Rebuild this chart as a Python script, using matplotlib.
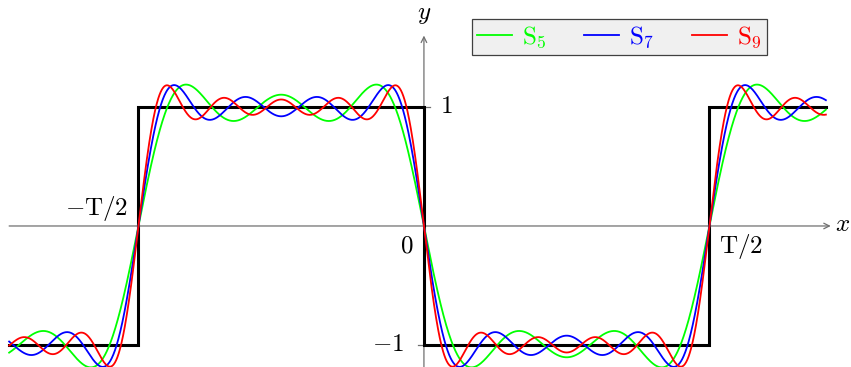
import numpy as np
import matplotlib.pyplot as plt

plt.rcParams['mathtext.fontset'] = 'cm'
plt.rcParams['font.family'] = 'serif'
plt.rcParams['font.serif'] = ['DejaVu Serif']

# half period T/2 = 1 in data units
x_min, x_max = -1.453, 1.408

# square wave: breakpoints and level on each piece
edges = [x_min, -1.0, 0.0, 1.0, x_max]
levels = [-1, 1, -1, 1]

# odd harmonics kept in each partial sum
orders = {'S_5': [1, 3, 5], 'S_7': [1, 3, 5, 7], 'S_9': [1, 3, 5, 7, 9]}
colors = {'S_5': '#00ff00', 'S_7': '#0000ff', 'S_9': '#ff0000'}
amp = 4 / np.pi

fig = plt.figure(figsize=(8.51, 3.67), dpi=100)
ax = fig.add_axes([0, 0, 1, 1])
ax.set_xlim(-1.485, 1.496)
ax.set_ylim(-1.185, 1.899)
ax.axis('off')

gray = '#707070'
# axes with arrow heads
ax.annotate('', xy=(1.425, 0), xytext=(x_min, 0),
            arrowprops=dict(arrowstyle='->', color=gray, lw=0.9, shrinkA=0, shrinkB=0))
ax.annotate('', xy=(0, 1.6), xytext=(0, -1.25),
            arrowprops=dict(arrowstyle='->', color=gray, lw=0.9, shrinkA=0, shrinkB=0))
for yt in (1, -1):
    ax.plot([-0.022, 0.022], [yt, yt], color=gray, lw=0.9)

# square wave
sx = np.repeat(edges, 2)[1:-1]
sy = np.repeat(levels, 2)
ax.plot(sx, sy, color='black', lw=2.2, solid_joinstyle='miter', zorder=3)

# partial Fourier sums
xs = np.linspace(x_min, x_max, 2000)
for name, ks in orders.items():
    s = np.zeros_like(xs)
    for k in ks:
        s -= amp * np.sin(k * np.pi * xs) / k
    ax.plot(xs, s, color=colors[name], lw=1.3, label=r'$\mathrm{S}_{%s}$' % name[2:], zorder=4)

fs = 18
ax.text(0.055, 1, r'$1$', fontsize=fs, ha='left', va='center')
ax.text(-0.068, -1, r'$-1$', fontsize=fs, ha='right', va='center')
ax.text(-0.037, -0.17, r'$0$', fontsize=fs, ha='right', va='center')
ax.text(-1.035, 0.15, r'$-\mathrm{T}/2$', fontsize=fs, ha='right', va='center')
ax.text(1.033, -0.17, r'$\mathrm{T}/2$', fontsize=fs, ha='left', va='center')
ax.text(1.468, 0.01, r'$x$', fontsize=fs, ha='center', va='center')
ax.text(0, 1.78, r'$y$', fontsize=fs, ha='center', va='center')

leg = ax.legend(loc='upper left', bbox_to_anchor=(472 / 851, 1 - 19 / 367),
                bbox_transform=fig.transFigure, borderaxespad=0, ncol=3,
                fancybox=False, framealpha=1, facecolor='#f0f0f0', edgecolor='#404040',
                fontsize=fs, handlelength=1.4, handletextpad=0.4, columnspacing=1.5,
                borderpad=0.2, labelcolor='linecolor')
leg.get_frame().set_linewidth(0.9)

fig.savefig('out.png', dpi=100)
